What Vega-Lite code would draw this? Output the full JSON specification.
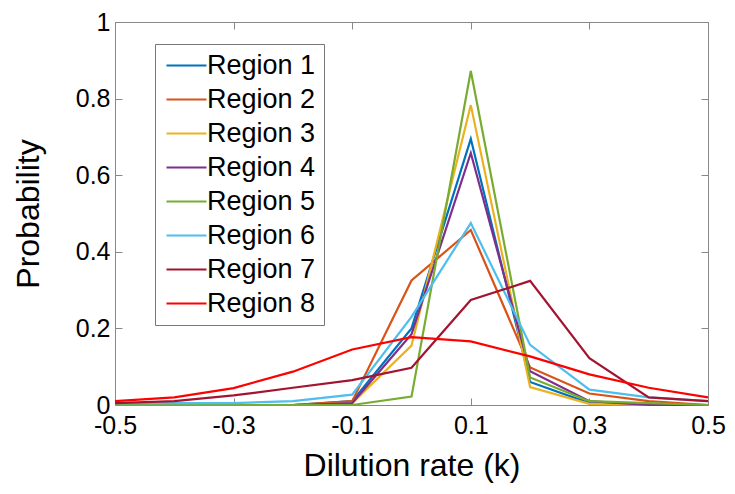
{
  "$schema": "https://vega.github.io/schema/vega-lite/v6.json",
  "width": 593,
  "height": 383,
  "autosize": {"type": "none"},
  "padding": {"left": 115, "top": 22, "right": 27, "bottom": 89},
  "background": "white",
  "config": {
    "font": "Liberation Sans",
    "view": {"stroke": "#888", "strokeWidth": 1},
    "axis": {"grid": false, "domainColor": "#888", "tickColor": "#888", "tickSize": -7, "labelColor": "black", "labelFontSize": 25, "titleFontSize": 32, "titleFontWeight": "normal", "titleColor": "black", "labelFont": "Liberation Sans", "titleFont": "Liberation Sans", "labelFlush": false, "labelOverlap": false}
  },
  "data": {"values": [
    {"k": -0.5, "p": 0, "region": "Region 1"}, {"k": -0.4, "p": 0, "region": "Region 1"}, {"k": -0.3, "p": 0, "region": "Region 1"}, {"k": -0.2, "p": 0, "region": "Region 1"}, {"k": -0.1, "p": 0.01, "region": "Region 1"}, {"k": 0, "p": 0.2, "region": "Region 1"}, {"k": 0.1, "p": 0.695, "region": "Region 1"}, {"k": 0.2, "p": 0.06, "region": "Region 1"}, {"k": 0.3, "p": 0.005, "region": "Region 1"}, {"k": 0.4, "p": 0, "region": "Region 1"}, {"k": 0.5, "p": 0, "region": "Region 1"},
    {"k": -0.5, "p": 0, "region": "Region 2"}, {"k": -0.4, "p": 0, "region": "Region 2"}, {"k": -0.3, "p": 0, "region": "Region 2"}, {"k": -0.2, "p": 0, "region": "Region 2"}, {"k": -0.1, "p": 0.01, "region": "Region 2"}, {"k": 0, "p": 0.325, "region": "Region 2"}, {"k": 0.1, "p": 0.457, "region": "Region 2"}, {"k": 0.2, "p": 0.098, "region": "Region 2"}, {"k": 0.3, "p": 0.03, "region": "Region 2"}, {"k": 0.4, "p": 0.01, "region": "Region 2"}, {"k": 0.5, "p": 0, "region": "Region 2"},
    {"k": -0.5, "p": 0, "region": "Region 3"}, {"k": -0.4, "p": 0, "region": "Region 3"}, {"k": -0.3, "p": 0, "region": "Region 3"}, {"k": -0.2, "p": 0, "region": "Region 3"}, {"k": -0.1, "p": 0.005, "region": "Region 3"}, {"k": 0, "p": 0.155, "region": "Region 3"}, {"k": 0.1, "p": 0.783, "region": "Region 3"}, {"k": 0.2, "p": 0.047, "region": "Region 3"}, {"k": 0.3, "p": 0.003, "region": "Region 3"}, {"k": 0.4, "p": 0, "region": "Region 3"}, {"k": 0.5, "p": 0, "region": "Region 3"},
    {"k": -0.5, "p": 0, "region": "Region 4"}, {"k": -0.4, "p": 0, "region": "Region 4"}, {"k": -0.3, "p": 0, "region": "Region 4"}, {"k": -0.2, "p": 0, "region": "Region 4"}, {"k": -0.1, "p": 0.005, "region": "Region 4"}, {"k": 0, "p": 0.185, "region": "Region 4"}, {"k": 0.1, "p": 0.658, "region": "Region 4"}, {"k": 0.2, "p": 0.088, "region": "Region 4"}, {"k": 0.3, "p": 0.01, "region": "Region 4"}, {"k": 0.4, "p": 0, "region": "Region 4"}, {"k": 0.5, "p": 0, "region": "Region 4"},
    {"k": -0.5, "p": 0, "region": "Region 5"}, {"k": -0.4, "p": 0, "region": "Region 5"}, {"k": -0.3, "p": 0, "region": "Region 5"}, {"k": -0.2, "p": 0, "region": "Region 5"}, {"k": -0.1, "p": 0, "region": "Region 5"}, {"k": 0, "p": 0.022, "region": "Region 5"}, {"k": 0.1, "p": 0.872, "region": "Region 5"}, {"k": 0.2, "p": 0.072, "region": "Region 5"}, {"k": 0.3, "p": 0.01, "region": "Region 5"}, {"k": 0.4, "p": 0.005, "region": "Region 5"}, {"k": 0.5, "p": 0, "region": "Region 5"},
    {"k": -0.5, "p": 0.005, "region": "Region 6"}, {"k": -0.4, "p": 0.005, "region": "Region 6"}, {"k": -0.3, "p": 0.005, "region": "Region 6"}, {"k": -0.2, "p": 0.01, "region": "Region 6"}, {"k": -0.1, "p": 0.027, "region": "Region 6"}, {"k": 0, "p": 0.23, "region": "Region 6"}, {"k": 0.1, "p": 0.475, "region": "Region 6"}, {"k": 0.2, "p": 0.157, "region": "Region 6"}, {"k": 0.3, "p": 0.04, "region": "Region 6"}, {"k": 0.4, "p": 0.02, "region": "Region 6"}, {"k": 0.5, "p": 0.01, "region": "Region 6"},
    {"k": -0.5, "p": 0.005, "region": "Region 7"}, {"k": -0.4, "p": 0.01, "region": "Region 7"}, {"k": -0.3, "p": 0.025, "region": "Region 7"}, {"k": -0.2, "p": 0.045, "region": "Region 7"}, {"k": -0.1, "p": 0.065, "region": "Region 7"}, {"k": 0, "p": 0.097, "region": "Region 7"}, {"k": 0.1, "p": 0.274, "region": "Region 7"}, {"k": 0.2, "p": 0.324, "region": "Region 7"}, {"k": 0.3, "p": 0.122, "region": "Region 7"}, {"k": 0.4, "p": 0.02, "region": "Region 7"}, {"k": 0.5, "p": 0.01, "region": "Region 7"},
    {"k": -0.5, "p": 0.01, "region": "Region 8"}, {"k": -0.4, "p": 0.02, "region": "Region 8"}, {"k": -0.3, "p": 0.044, "region": "Region 8"}, {"k": -0.2, "p": 0.087, "region": "Region 8"}, {"k": -0.1, "p": 0.145, "region": "Region 8"}, {"k": 0, "p": 0.177, "region": "Region 8"}, {"k": 0.1, "p": 0.166, "region": "Region 8"}, {"k": 0.2, "p": 0.127, "region": "Region 8"}, {"k": 0.3, "p": 0.08, "region": "Region 8"}, {"k": 0.4, "p": 0.045, "region": "Region 8"}, {"k": 0.5, "p": 0.02, "region": "Region 8"}
  ]},
  "layer": [
    {
      "mark": {"type": "line", "strokeWidth": 2.2},
      "encoding": {
        "x": {"field": "k", "type": "quantitative", "scale": {"domain": [-0.5, 0.5], "nice": false}, "title": "Dilution rate (k)", "axis": {"values": [-0.5, -0.3, -0.1, 0.1, 0.3, 0.5], "labelExpr": "'' + datum.value", "labelPadding": 15, "titlePadding": 12}},
        "y": {"field": "p", "type": "quantitative", "scale": {"domain": [0, 1], "nice": false}, "title": "Probability", "axis": {"values": [0, 0.2, 0.4, 0.6, 0.8, 1], "labelExpr": "'' + datum.value", "labelPadding": 12, "titlePadding": 30}},
        "color": {"field": "region", "type": "nominal", "scale": {"domain": ["Region 1", "Region 2", "Region 3", "Region 4", "Region 5", "Region 6", "Region 7", "Region 8"], "range": ["#0072BD", "#D95319", "#EDB120", "#7E2F8E", "#77AC30", "#4DBEEE", "#A2142F", "#FF0000"]},
          "legend": {"title": null, "orient": "none", "legendX": 40, "legendY": 22, "strokeColor": "#777", "fillColor": "white", "padding": 8, "symbolType": "M-1,0H3", "symbolSize": 400, "symbolStrokeWidth": 2.2, "labelFontSize": 27, "labelOffset": 17, "rowPadding": 6, "labelColor": "black", "labelFont": "Liberation Sans"}}
      }
    },
    {
      "mark": {"type": "line", "opacity": 0},
      "encoding": {
        "x": {"field": "k", "type": "quantitative", "axis": {"orient": "top", "values": [-0.5, -0.3, -0.1, 0.1, 0.3, 0.5], "labels": false, "title": null}},
        "y": {"field": "p", "type": "quantitative", "axis": {"orient": "right", "values": [0, 0.2, 0.4, 0.6, 0.8, 1], "labels": false, "title": null}},
        "detail": {"field": "region"}
      }
    }
  ],
  "resolve": {"axis": {"x": "independent", "y": "independent"}}
}
